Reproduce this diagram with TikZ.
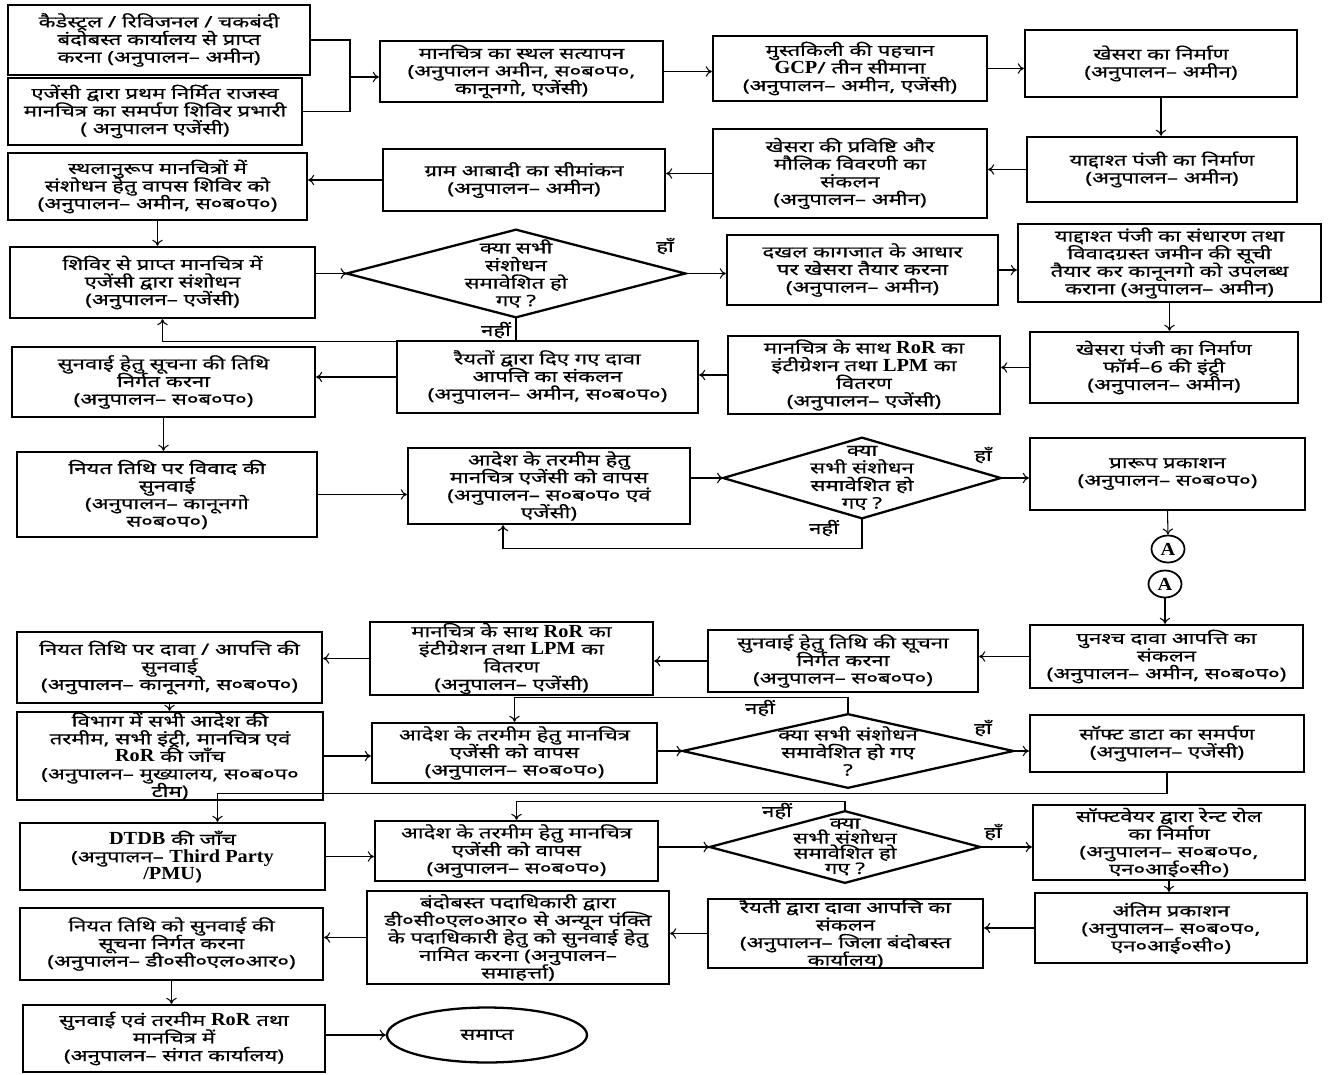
\documentclass[tikz,border=0pt]{standalone}
\usepackage{fontspec}
\setmainfont{Noto Sans}[Script=Devanagari, FakeStretch=1.4, FakeBold=0.5]
\newfontfamily\lat{Liberation Serif}[FakeStretch=1.1]
\newcommand{\lbf}[1]{{\lat\bfseries\fontsize{10.5}{10}\selectfont #1}}
\newcommand{\boxfont}{\fontsize{9}{10}\selectfont\lineskiplimit -20pt\relax\lineskip 0pt\relax}
\newcommand{\diafont}{\fontsize{9}{8.6}\selectfont\lineskiplimit -20pt\relax\lineskip 0pt\relax}
\usetikzlibrary{arrows.meta,shapes.geometric}

\begin{document}
\begin{tikzpicture}[x=0.02cm,y=-0.02cm,
  sz/.style 2 args={minimum width=#1cm,minimum height=#2cm}]
              \tikzstyle{every node}+=[inner sep=0pt, align=center, font=\boxfont]
              \tikzstyle{box}=[draw, line width=1.3pt]
              \tikzstyle{dia}=[line width=1.3pt]
              \tikzstyle{con}=[line width=0.6pt, -{To[length=3.5pt,width=6pt]}]
              \useasboundingbox (0,0) rectangle (1332,1075);
              \fill [white] (0,0) rectangle (1332,1075);
              \node [box, sz={6.04}{1.4}] (a1) at (159,40) {कैडेस्ट्रल / रिविजनल / चकबंदी\\बंदोबस्त कार्यालय से प्राप्त\\करना (अनुपालन–  अमीन)};
              \node [box, sz={5.88}{1.34}] (a2) at (155,111.5) {एजेंसी द्वारा प्रथम निर्मित राजस्व\\मानचित्र का समर्पण शिविर प्रभारी\\( अनुपालन एजेंसी)};
              \node [box, sz={5.66}{1.22}] (b) at (521.5,71.5) {मानचित्र का स्थल सत्यापन\\(अनुपालन अमीन, स०ब०प०,\\कानूनगो, एजेंसी)};
              \node [box, sz={5.48}{1.3}] (c) at (850,68.5) {मुस्तकिली की पहचान\\\lbf{GCP}/ तीन सीमाना\\(अनुपालन– अमीन, एजेंसी)};
              \node [box, sz={5.44}{1.34}] (d) at (1161,63.5) {खेसरा का निर्माण\\(अनुपालन– अमीन)};
              \node [box, sz={5.4}{1.3}] (e) at (1162,169.5) {याद्दाश्त पंजी का निर्माण\\(अनुपालन– अमीन)};
              \node [box, sz={5.48}{1.78}] (f) at (850,173.5) {खेसरा की प्रविष्टि और\\मौलिक विवरणी का\\संकलन\\(अनुपालन– अमीन)};
              \node [box, sz={5.64}{1.24}] (g) at (524,180) {ग्राम आबादी का सीमांकन\\(अनुपालन– अमीन)};
              \node [box, sz={5.98}{1.34}] (h) at (157.5,186.5) {स्थलानुरूप मानचित्रों में\\संशोधन हेतु वापस शिविर को\\(अनुपालन– अमीन, स०ब०प०)};
              \node [box, sz={6.1}{1.42}] (i) at (162.5,282.5) {शिविर से प्राप्त मानचित्र में\\एजेंसी द्वारा संशोधन\\(अनुपालन– एजेंसी)};
              \node [sz={6.76}{1.74}] (d1) at (516,273.5) {क्या सभी\\संशोधन\\समावेशित हो\\गए ?};
              \draw [dia] (d1.west) -- (d1.north) -- (d1.east) -- (d1.south) -- cycle;
              \node [box, sz={5.42}{1.4}] (j) at (862.5,270) {दखल कागजात के आधार\\पर खेसरा तैयार करना\\(अनुपालन– अमीन)};
              \node [box, sz={6.06}{1.56}] (k) at (1169.5,263) {याद्दाश्त पंजी का संधारण तथा\\विवादग्रस्त जमीन की सूची\\तैयार कर कानूनगो को उपलब्ध\\कराना (अनुपालन– अमीन)};
              \node [box, sz={6.06}{1.4}] (l) at (163.5,382) {सुनवाई हेतु सूचना की तिथि\\निर्गत करना\\(अनुपालन– स०ब०प०)};
              \node [box, sz={6.02}{1.44}] (m) at (547.5,377) {रैयतों द्वारा दिए गए दावा\\आपत्ति का संकलन\\(अनुपालन– अमीन, स०ब०प०)};
              \node [box, sz={5.44}{1.56}] (n) at (864,375) {मानचित्र के साथ \lbf{RoR} का\\इंटीग्रेशन तथा \lbf{LPM} का\\वितरण\\(अनुपालन– एजेंसी)};
              \node [box, sz={5.36}{1.42}] (o) at (1164,367.5) {खेसरा पंजी का निर्माण\\फॉर्म–6 की इंट्री\\(अनुपालन– अमीन)};
              \node [box, sz={6.0}{1.7}] (p) at (167,494.5) {नियत तिथि पर विवाद की\\सुनवाई\\(अनुपालन– कानूनगो\\स०ब०प०)};
              \node [box, sz={5.64}{1.52}] (q) at (549,486) {आदेश के तरमीम हेतु\\मानचित्र  एजेंसी को वापस\\(अनुपालन– स०ब०प० एवं\\एजेंसी)};
              \node [sz={5.54}{1.6}] (d2) at (862,478) {क्या\\सभी संशोधन\\समावेशित हो\\गए ?};
              \draw [dia] (d2.west) -- (d2.north) -- (d2.east) -- (d2.south) -- cycle;
              \node [box, sz={5.5}{1.44}] (r) at (1167.5,474) {प्रारूप प्रकाशन\\(अनुपालन– स०ब०प०)};
              \node [draw, ellipse, line width=1pt, sz={0.66}{0.54}] (ca) at (1168,549) {\lbf{A}};
              \node [draw, ellipse, line width=1pt, sz={0.66}{0.54}] (cb) at (1165,584) {\lbf{A}};
              \node [box, sz={6.1}{1.42}] (s) at (169.5,667.5) {नियत तिथि पर दावा / आपत्ति की\\सुनवाई\\(अनुपालन– कानूनगो, स०ब०प०)};
              \node [box, sz={5.66}{1.46}] (t) at (511.5,658.5) {मानचित्र के साथ \lbf{RoR} का\\इंटीग्रेशन तथा \lbf{LPM} का\\वितरण\\(अनुपालन– एजेंसी)};
              \node [box, sz={5.4}{1.24}] (u) at (843,661) {सुनवाई हेतु तिथि की सूचना\\निर्गत करना\\(अनुपालन– स०ब०प०)};
              \node [box, sz={5.46}{1.26}] (v) at (1166.5,656.5) {पुनश्च दावा आपत्ति का\\संकलन\\(अनुपालन– अमीन, स०ब०प०)};
              \node [box, sz={6.12}{1.76}] (w) at (170,756) {विभाग में सभी आदेश की\\तरमीम, सभी इंट्री, मानचित्र एवं\\\lbf{RoR} की जाँच\\(अनुपालन– मुख्यालय, स०ब०प०\\टीम)};
              \node [box, sz={5.7}{1.2}] (x) at (514.5,753) {आदेश के तरमीम हेतु मानचित्र\\एजेंसी को वापस\\(अनुपालन– स०ब०प०)};
              \node [sz={6.6}{1.46}] (d3) at (848,751) {क्या सभी संशोधन\\समावेशित हो गए\\?};
              \draw [dia] (d3.west) -- (d3.north) -- (d3.east) -- (d3.south) -- cycle;
              \node [box, sz={5.48}{1.14}] (y) at (1167,743.5) {सॉफ्ट डाटा का समर्पण\\(अनुपालन– एजेंसी)};
              \node [box, sz={6.1}{1.34}] (z) at (172.5,856.5) {\lbf{DTDB} की जाँच\\(अनुपालन– \lbf{Third Party}\\\lbf{/PMU})};
              \node [box, sz={5.66}{1.2}] (aa) at (516.5,851) {आदेश के तरमीम हेतु मानचित्र\\एजेंसी को वापस\\(अनुपालन– स०ब०प०)};
              \node [sz={5.4}{1.42}, font=\diafont] (d4) at (845,847) {क्या\\सभी संशोधन\\समावेशित हो\\गए ?};
              \draw [dia] (d4.west) -- (d4.north) -- (d4.east) -- (d4.south) -- cycle;
              \node [box, sz={5.44}{1.5}] (ab) at (1169,842.5) {सॉफ्टवेयर द्वारा रेन्ट रोल\\का निर्माण\\(अनुपालन– स०ब०प०,\\एन०आई०सी०)};
              \node [box, sz={6.06}{1.44}] (ac) at (171.5,944) {नियत तिथि को सुनवाई की\\सूचना निर्गत करना\\(अनुपालन– डी०सी०एल०आर०)};
              \node [box, sz={6.04}{1.86}] (ad) at (518,937.5) {बंदोबस्त पदाधिकारी द्वारा\\डी०सी०एल०आर० से अन्यून पंक्ति\\के पदाधिकारी हेतु को सुनवाई हेतु\\नामित करना (अनुपालन–\\समाहर्त्ता)};
              \node [box, sz={5.5}{1.38}] (ae) at (845.5,933.5) {रैयती द्वारा दावा आपत्ति का\\संकलन\\(अनुपालन– जिला बंदोबस्त\\कार्यालय)};
              \node [box, sz={5.44}{1.4}] (af) at (1171,928) {अंतिम प्रकाशन\\(अनुपालन– स०ब०प०,\\एन०आई०सी०)};
              \node [box, sz={6.04}{1.34}] (ag) at (174,1038.5) {सुनवाई एवं तरमीम \lbf{RoR} तथा\\मानचित्र में\\(अनुपालन– संगत कार्यालय)};
              \node [draw, ellipse, line width=1.3pt, sz={4.0}{1.1}] (fin) at (487,1035) {समाप्त};
              \coordinate (mrg) at (350,77);
              \draw [line width=0.6pt] (a1.east) -| (mrg);
              \draw [line width=0.6pt] (a2.east) -| (mrg);
              \draw [con] (mrg) -- (mrg -| b.west);
              \draw [con] (b.east) -- (b.east -| c.west);
              \draw [con] (c.east) -- (c.east -| d.west);
              \draw [con] (d.south) -- (d.south |- e.north);
              \draw [con] (e.west) -- (e.west -| f.east);
              \draw [con] (f.west) -- (f.west -| g.east);
              \draw [con] (g.west) -- (g.west -| h.east);
              \draw [con] (h.south) -- (h.south |- i.north);
              \draw [con] (i.east |- d1.west) -- (d1.west);
              \draw [con] (d1.east) -- (d1.east -| j.west);
              \node (y1) at (665,246) {हाँ};
              \draw [con] (d1.south) -- ++(0,24) -| (i.south);
              \node (n1) at (496,330) {नहीं};
              \draw [con] (j.east) -- (j.east -| k.west);
              \draw [con] (k.south) -- (k.south |- o.north);
              \draw [con] (o.west) -- (o.west -| n.east);
              \draw [con] (n.west) -- (n.west -| m.east);
              \draw [con] (m.west) -- (m.west -| l.east);
              \draw [con] (l.south) -- (l.south |- p.north);
              \draw [con] (p.east) -- (p.east -| q.west);
              \draw [con] (q.east |- d2.west) -- (d2.west);
              \draw [con] (d2.east) -- (d2.east -| r.west);
              \node (y2) at (983,455) {हाँ};
              \draw [con] (d2.south) -- ++(0,30) -| ([xshift=-0.92cm]q.south);
              \node (n2) at (824,528) {नहीं};
              \draw [con] (r.south) -- (ca.north);
              \draw [con] (cb.south) -- (cb.south |- v.north);
              \draw [con] (v.west) -- (v.west -| u.east);
              \draw [con] (u.west) -- (u.west -| t.east);
              \draw [con] (t.west) -- (t.west -| s.east);
              \draw [con] (s.south) -- (s.south |- w.north);
              \draw [con] (w.east) -- (w.east -| x.west);
              \draw [con] (x.east |- d3.west) -- (d3.west);
              \draw [con] (d3.east) -- (d3.east -| y.west);
              \node (y3) at (983,728) {हाँ};
              \draw [con] (d3.north) -- ++(0,-17) -| (x.north);
              \node (n3) at (760,708) {नहीं};
              \draw [con] (y.south) -- ++(0,20) -| ([xshift=0.9cm]z.north);
              \draw [con] (z.east) -- (z.east -| aa.west);
              \draw [con] (aa.east |- d4.west) -- (d4.west);
              \draw [con] (d4.east) -- (d4.east -| ab.west);
              \node (y4) at (993,832) {हाँ};
              \draw [con] (d4.north) -- ++(0,-10) -| (aa.north);
              \node (n4) at (777,811) {नहीं};
              \draw [con] (ab.south) -- (ab.south |- af.north);
              \draw [con] (af.west) -- (af.west -| ae.east);
              \draw [con] (ae.west) -- (ae.west -| ad.east);
              \draw [con] (ad.west) -- (ad.west -| ac.east);
              \draw [con] (ac.south) -- (ac.south |- ag.north);
              \draw [con] (fin.west -| ag.east) -- (fin.west);
            \end{tikzpicture}
\end{document}
